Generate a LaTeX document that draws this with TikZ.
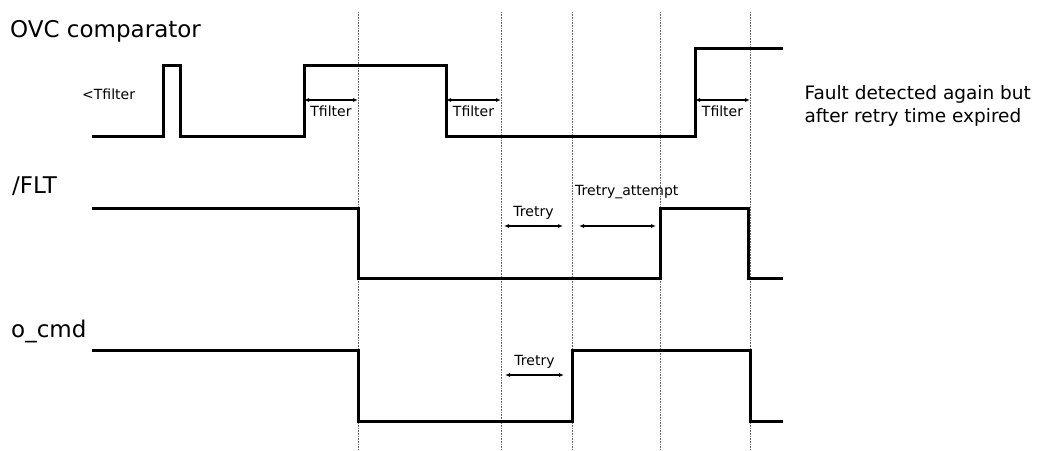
\documentclass[tikz,border=0pt]{standalone}
\usepackage{fontspec}
\setmainfont{DejaVu Sans}
\usetikzlibrary{arrows.meta}

\begin{document}
\begin{tikzpicture}[
  x=1pt, y=-1pt,
  sig/.style={line width=3pt, line join=miter},
  grid/.style={densely dotted, gray!80!black, line width=0.6pt},
  dim/.style={{Latex[length=5pt,width=4pt]}-{Latex[length=5pt,width=4pt]}, line width=1.2pt},
  title/.style={anchor=base west, inner sep=0pt, font=\fontsize{23}{27}\selectfont},
  lbl/.style={inner sep=0pt, font=\fontsize{14}{17}\selectfont}
]
  \useasboundingbox (0,0) rectangle (1043,450);

  % time marks
  \foreach \t in {358, 501, 572, 660, 750} {
    \draw[grid] (\t,12) -- (\t,450);
  }

  % signal names
  \node[title] (ovc) at (10,37) {OVC comparator};
  \node[title] (flt) at (12,193) {/FLT};
  \node[title] (cmd) at (11,337) {o\_cmd};

  % OVC comparator
  \draw[sig] (92,136) -- (163,136) -- (163,65) -- (180,65) -- (180,136)
    -- (304,136) -- (304,65) -- (446,65) -- (446,136) -- (695,136)
    -- (695,48) -- (783,48);
  \node[lbl, anchor=west] (glitch) at (82,94) {<Tfilter};

  \coordinate (f1a) at (304,100); \coordinate (f1b) at (358,100);
  \coordinate (f2a) at (446,100); \coordinate (f2b) at (501,100);
  \coordinate (f3a) at (695,100); \coordinate (f3b) at (750,100);
  \draw[dim] (f1a) -- node[lbl, below=5pt] (tf1) {Tfilter} (f1b);
  \draw[dim] (f2a) -- node[lbl, below=5pt] (tf2) {Tfilter} (f2b);
  \draw[dim] (f3a) -- node[lbl, below=5pt] (tf3) {Tfilter} (f3b);

  \node[anchor=west, align=left, font=\fontsize{18.5}{23}\selectfont] (note) at (801,106)
    {Fault detected again but\\after retry time expired};

  % /FLT
  \draw[sig] (92,208) -- (358,208) -- (358,278) -- (660,278) -- (660,208)
    -- (748,208) -- (748,278) -- (783,278);
  \coordinate (r1a) at (504,226); \coordinate (r1b) at (563,226);
  \coordinate (r2a) at (579,226); \coordinate (r2b) at (656,226);
  \draw[dim] (r1a) -- node[lbl, above=6pt] (tr1) {Tretry} (r1b);
  \draw[dim] (r2a) -- (r2b);
  \node[lbl, anchor=west] (tra) at (575,192) {Tretry\_attempt};

  % o_cmd
  \draw[sig] (92,350) -- (358,350) -- (358,421) -- (572,421) -- (572,350)
    -- (750,350) -- (750,421) -- (783,421);
  \coordinate (r3a) at (505,375); \coordinate (r3b) at (564,375);
  \draw[dim] (r3a) -- node[lbl, above=6pt] (tr3) {Tretry} (r3b);
\end{tikzpicture}
\end{document}
